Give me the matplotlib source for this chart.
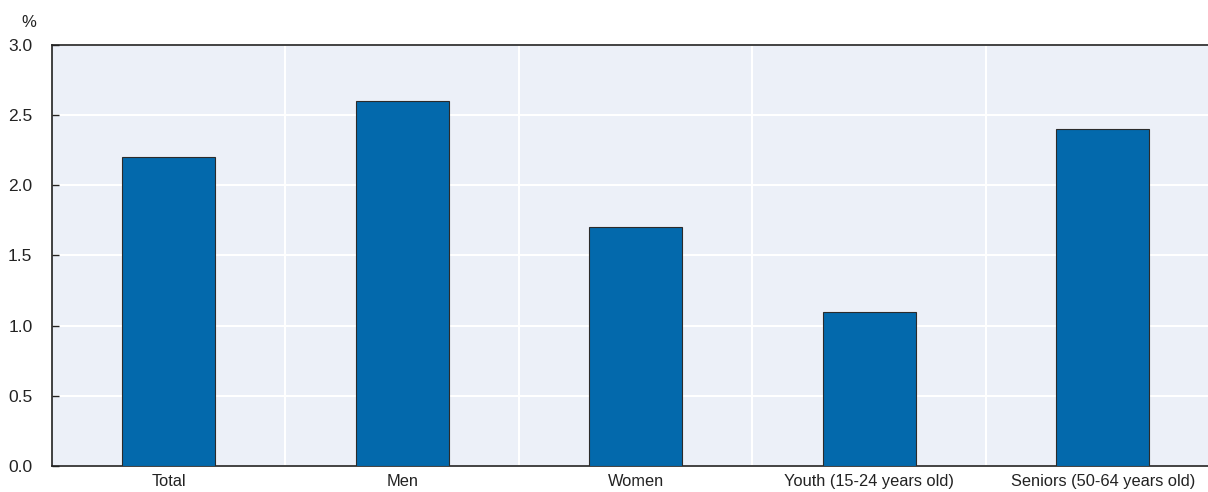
import matplotlib
matplotlib.use('Agg')
import numpy as np
import matplotlib.pyplot as plt

categories = ['Total', 'Men', 'Women', 'Youth (15-24 years old)', 'Seniors (50-64 years old)']
values = [2.2, 2.6, 1.7, 1.1, 2.4]
yticks = [0.0, 0.5, 1.0, 1.5, 2.0, 2.5, 3.0]

plt.rcParams['font.family'] = ['Liberation Sans', 'DejaVu Sans']

fig = plt.figure(figsize=(12.08, 4.92), dpi=100)
# the plot area runs a little past the right edge of the picture
ax = fig.add_axes([0.043, 0.053, 0.9665, 0.8555])
ax.set_facecolor('#ECF0F8')

x = np.arange(len(categories))
ax.bar(x, values, width=0.4, color='#0369AC', edgecolor='#2b2b2b', linewidth=0.8, zorder=3)

ax.set_xlim(-0.5, len(categories) - 0.5)
ax.set_ylim(0, 3.0)
ax.set_yticks(yticks)
ax.set_yticklabels([f'{v:.1f}' for v in yticks], fontsize=12.5)
ax.set_xticks(x)
ax.set_xticklabels(categories, fontsize=11.8)
ax.tick_params(axis='x', length=0, pad=6, colors='#222222')
ax.tick_params(axis='y', length=5, width=1, direction='in', pad=14, colors='#222222')

# boundaries between categories
bounds = np.arange(len(categories) - 1) + 0.5
ax.set_xticks(bounds, minor=True)
ax.tick_params(axis='x', which='minor', length=5, width=1.2, direction='in', color='#222222')
for b in bounds:
    ax.axvline(b, color='white', linewidth=1.5, zorder=1)
ax.grid(axis='y', color='white', linewidth=1.5, zorder=1)
ax.set_axisbelow(True)

for side in ['top', 'left', 'bottom']:
    ax.spines[side].set_color('#222222')
    ax.spines[side].set_linewidth(1.2)
ax.spines['right'].set_visible(False)

fig.text(0.024, 0.955, '%', fontsize=12, ha='center', va='center', color='#222222')

fig.savefig('out.png', dpi=100)
